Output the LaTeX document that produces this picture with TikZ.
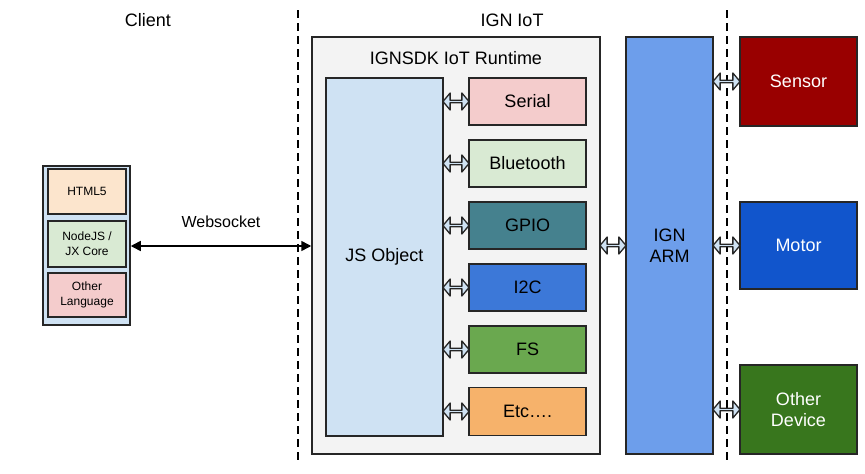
\documentclass[tikz,border=0pt]{standalone}
\usepackage{fontspec}
\setmainfont{Liberation Sans}
\usetikzlibrary{shapes.arrows,arrows.meta}
\definecolor{jsblue}{HTML}{CFE2F3}
\definecolor{cpink}{HTML}{F4CCCC}
\definecolor{cgreen}{HTML}{D9EAD3}
\definecolor{cteal}{HTML}{45818E}
\definecolor{cblue}{HTML}{3C78D8}
\definecolor{cfs}{HTML}{6AA84F}
\definecolor{corange}{HTML}{F6B26B}
\definecolor{cpeach}{HTML}{FCE5CD}
\definecolor{carm}{HTML}{6D9EEB}
\definecolor{csensor}{HTML}{990000}
\definecolor{cmotor}{HTML}{1155CC}
\definecolor{cdev}{HTML}{38761D}
\definecolor{cgrey}{HTML}{F3F3F3}
\tikzset{
  blk/.style={draw=black!85, line width=1.5pt, rectangle, inner sep=0pt, align=center, font=\fontsize{18}{21}\selectfont},
  small/.style={blk, font=\fontsize{12}{15}\selectfont},
  fatarrow/.style={double arrow, draw=black!85, line width=1.3pt, line join=round, fill=jsblue, inner sep=0pt,
     minimum width=17pt, double arrow head extend=4pt, double arrow tip angle=100, minimum height=26pt},
  divider/.style={line width=1.5pt, dash pattern=on 8pt off 5pt},
  title/.style={font=\fontsize{18}{21}\selectfont},
}
\begin{document}
\begin{tikzpicture}[x=1pt,y=-1pt]
\useasboundingbox[fill=white] (0,0) rectangle (865,474);
% dividers
\coordinate (d1t) at (298,10); \coordinate (d1b) at (298,462);
\coordinate (d2t) at (727,10); \coordinate (d2b) at (727,462);
\draw[divider] (d1t) -- (d1b);
\draw[divider] (d2t) -- (d2b);
% titles
\node[title] (tclient) at (148,20) {Client};
\node[title] (tiot) at (512,20) {IGN IoT};
% client
\node[blk, fill=jsblue, minimum width=87pt, minimum height=159pt] (client) at (86.5,245.5) {};
\node[small, fill=cpeach, minimum width=78pt, minimum height=45pt] (html) at (87,191.5) {HTML5};
\node[small, fill=cgreen, minimum width=78pt, minimum height=46pt] (nodejs) at (87,244) {NodeJS /\\JX Core};
\node[small, fill=cpink, minimum width=78pt, minimum height=44pt] (other) at (87,295) {Other\\Language};
% runtime
\node[blk, fill=cgrey, minimum width=288pt, minimum height=417pt] (rt) at (456,245.5) {};
\node[title] (rttitle) at (456,58) {IGNSDK IoT Runtime};
\node[blk, fill=jsblue, minimum width=117pt, minimum height=358pt] (js) at (384.5,257) {JS Object};
\node[blk, fill=cpink, minimum width=117pt, minimum height=47pt] (serial) at (527.5,101.5) {Serial};
\node[blk, fill=cgreen, minimum width=117pt, minimum height=47pt] (bt) at (527.5,163.5) {Bluetooth};
\node[blk, fill=cteal, minimum width=117pt, minimum height=47pt] (gpio) at (527.5,225.5) {GPIO};
\node[blk, fill=cblue, minimum width=117pt, minimum height=47pt] (i2c) at (527.5,287.5) {I2C};
\node[blk, fill=cfs, minimum width=117pt, minimum height=47pt] (fs) at (527.5,349.5) {FS};
\node[blk, fill=corange, minimum width=117pt, minimum height=48pt] (etc) at (527.5,411.5) {Etc….};
% ARM
\node[blk, fill=carm, minimum width=87pt, minimum height=417pt] (arm) at (669.5,245.5) {IGN\\ARM};
% devices
\node[blk, fill=csensor, text=white, minimum width=117pt, minimum height=89pt] (sensor) at (798.5,81.5) {Sensor};
\node[blk, fill=cmotor, text=white, minimum width=117pt, minimum height=87pt] (motor) at (798.5,245.5) {Motor};
\node[blk, fill=cdev, text=white, minimum width=117pt, minimum height=89pt] (dev) at (798.5,409.5) {Other\\Device};
% websocket
\draw[line width=1.5pt, {Triangle[length=10pt,width=10pt]}-{Triangle[length=10pt,width=10pt]}]
  (client.east |- 0,246) -- (rt.west |- 0,246) node[midway, above=14pt, font=\fontsize{16}{19}\selectfont] (ws) {Websocket};
% fat arrows
\foreach \b in {serial,bt,gpio,i2c,fs,etc}{
  \path (js.east |- \b) -- (\b.west) node[midway, fatarrow] {};
}
\path (rt.east |- arm) -- (arm.west |- arm) node[midway, fatarrow] {};
\foreach \b in {sensor,motor,dev}{
  \path (arm.east |- \b) -- (\b.west) node[midway, fatarrow, minimum height=27pt] {};
}
\end{tikzpicture}
\end{document}
